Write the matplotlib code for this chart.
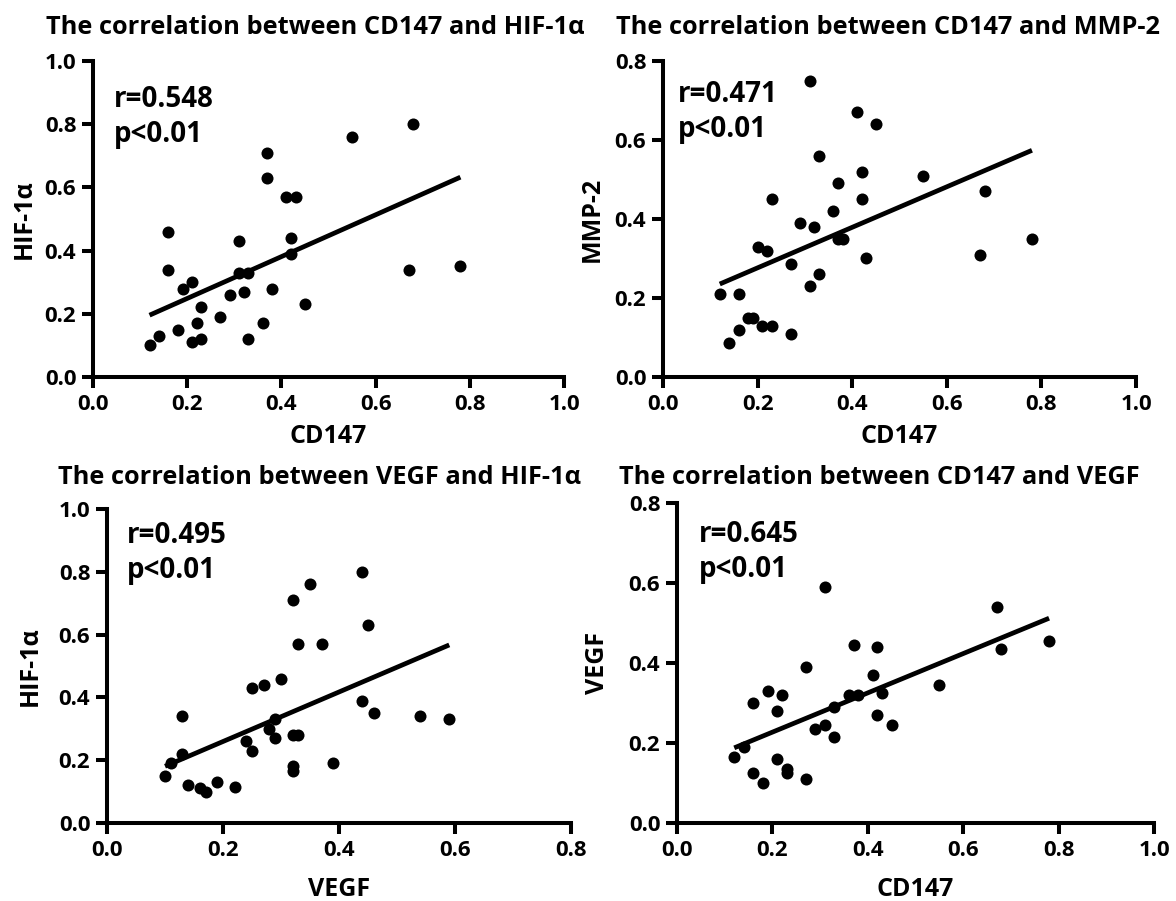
import numpy as np
import matplotlib
matplotlib.use("Agg")
import matplotlib.pyplot as plt
from matplotlib.ticker import FormatStrFormatter

# ---------------------------------------------------------------------------
# Data
# ---------------------------------------------------------------------------

# CD147 vs HIF-1a
cd147_a = [0.12, 0.14, 0.16, 0.16, 0.18, 0.19, 0.21, 0.21, 0.22, 0.23, 0.23,
           0.27, 0.29, 0.31, 0.31, 0.32, 0.33, 0.33, 0.36, 0.37, 0.37, 0.38,
           0.41, 0.43, 0.42, 0.42, 0.45, 0.55, 0.68, 0.67, 0.78]
hif_a = [0.10, 0.13, 0.46, 0.34, 0.15, 0.28, 0.30, 0.11, 0.17, 0.22, 0.12,
         0.19, 0.26, 0.43, 0.33, 0.27, 0.33, 0.12, 0.17, 0.71, 0.63, 0.28,
         0.57, 0.57, 0.44, 0.39, 0.23, 0.76, 0.80, 0.34, 0.35]

# CD147 vs MMP-2
cd147_b = [0.12, 0.14, 0.16, 0.16, 0.18, 0.19, 0.20, 0.22, 0.21, 0.23, 0.23,
           0.27, 0.27, 0.29, 0.31, 0.31, 0.32, 0.33, 0.33, 0.36, 0.37, 0.37,
           0.38, 0.41, 0.42, 0.42, 0.43, 0.45, 0.55, 0.67, 0.68, 0.78]
mmp2_b = [0.21, 0.085, 0.21, 0.12, 0.15, 0.15, 0.33, 0.32, 0.13, 0.13, 0.45,
          0.11, 0.285, 0.39, 0.75, 0.23, 0.38, 0.56, 0.26, 0.42, 0.49, 0.35,
          0.35, 0.67, 0.52, 0.45, 0.30, 0.64, 0.51, 0.31, 0.47, 0.35]

# VEGF vs HIF-1a
vegf_c = [0.10, 0.11, 0.13, 0.13, 0.14, 0.16, 0.17, 0.19, 0.22, 0.24, 0.25,
          0.25, 0.27, 0.28, 0.29, 0.29, 0.30, 0.32, 0.32, 0.33, 0.32, 0.32,
          0.33, 0.35, 0.37, 0.39, 0.44, 0.44, 0.45, 0.46, 0.54, 0.59]
hif_c = [0.15, 0.19, 0.22, 0.34, 0.12, 0.11, 0.10, 0.13, 0.115, 0.26, 0.43,
         0.23, 0.44, 0.30, 0.33, 0.27, 0.46, 0.71, 0.28, 0.28, 0.18, 0.165,
         0.57, 0.76, 0.57, 0.19, 0.80, 0.39, 0.63, 0.35, 0.34, 0.33]

# CD147 vs VEGF
cd147_d = [0.12, 0.14, 0.16, 0.16, 0.18, 0.19, 0.21, 0.21, 0.22, 0.23, 0.23,
           0.27, 0.27, 0.29, 0.31, 0.31, 0.33, 0.33, 0.36, 0.37, 0.38, 0.41,
           0.42, 0.42, 0.43, 0.45, 0.55, 0.67, 0.68, 0.78]
vegf_d = [0.165, 0.19, 0.30, 0.125, 0.10, 0.33, 0.28, 0.16, 0.32, 0.135, 0.125,
          0.39, 0.11, 0.235, 0.59, 0.245, 0.29, 0.215, 0.32, 0.445, 0.32, 0.37,
          0.44, 0.27, 0.325, 0.245, 0.345, 0.54, 0.435, 0.455]

titles = ["The correlation between CD147 and HIF-1\u03b1",
          "The correlation between CD147 and MMP-2",
          "The correlation between VEGF and HIF-1\u03b1",
          "The correlation between CD147 and VEGF"]
x_labels = ["CD147", "CD147", "VEGF", "CD147"]
y_labels = ["HIF-1\u03b1", "MMP-2", "HIF-1\u03b1", "VEGF"]
r_texts = ["r=0.548\np<0.01", "r=0.471\np<0.01",
           "r=0.495\np<0.01", "r=0.645\np<0.01"]
x_max = [1.0, 1.0, 0.8, 1.0]
y_max = [1.0, 0.8, 1.0, 0.8]

xs = [cd147_a, cd147_b, vegf_c, cd147_d]
ys = [hif_a, mmp2_b, hif_c, vegf_d]

# ---------------------------------------------------------------------------
# Layout (figure fractions / axes fractions)
# ---------------------------------------------------------------------------

rects = [(0.0791, 0.5816, 0.4005, 0.3507),
         (0.5638, 0.5816, 0.4022, 0.3507),
         (0.0910, 0.0866, 0.3946, 0.3485),
         (0.5757, 0.0866, 0.4056, 0.3552)]
title_pos = [(0.2679, 0.9623), (0.7551, 0.9623),
             (0.2713, 0.4628), (0.7474, 0.4628)]
# anchored at the baseline of the "p<0.01" line
r_pos = [(0.045, 0.744), (0.032, 0.76), (0.043, 0.78), (0.046, 0.77)]
ylabel_x = [-0.119, -0.123, -0.138, -0.140]
xlabel_y = [-0.149, -0.149, -0.172, -0.168]

plt.rcParams["font.family"] = ["Open Sans", "DejaVu Sans"]
plt.rcParams["font.weight"] = "bold"

LW = 2.9

fig = plt.figure(figsize=(11.76, 9.01), dpi=100)

for i in range(4):
    ax = fig.add_axes(rects[i])
    x = np.array(xs[i])
    y = np.array(ys[i])
    ax.scatter(x, y, s=75, color="black", zorder=3, linewidths=0)

    # least-squares fit line over the data range
    slope, intercept = np.polyfit(x, y, 1)
    fx = np.array([x.min(), x.max()])
    ax.plot(fx, slope * fx + intercept, color="black", lw=3.4,
            solid_capstyle="butt", zorder=2)

    ax.set_xlim(0, x_max[i])
    ax.set_ylim(0, y_max[i])
    ax.set_xticks(np.arange(0, x_max[i] + 0.01, 0.2))
    ax.set_yticks(np.arange(0, y_max[i] + 0.01, 0.2))
    ax.xaxis.set_major_formatter(FormatStrFormatter("%.1f"))
    ax.yaxis.set_major_formatter(FormatStrFormatter("%.1f"))

    for side in ["top", "right"]:
        ax.spines[side].set_visible(False)
    for side in ["left", "bottom"]:
        ax.spines[side].set_linewidth(LW)
    ax.tick_params(width=LW, length=8, pad=4, labelsize=16)
    for lab in ax.get_xticklabels() + ax.get_yticklabels():
        lab.set_fontweight("bold")

    ax.set_xlabel(x_labels[i], fontsize=18, fontweight="bold")
    ax.set_ylabel(y_labels[i], fontsize=18, fontweight="bold")
    ax.xaxis.set_label_coords(0.5, xlabel_y[i])
    ax.yaxis.set_label_coords(ylabel_x[i], 0.5)

    ax.text(r_pos[i][0], r_pos[i][1], r_texts[i], transform=ax.transAxes,
            fontsize=20, fontweight="bold", va="baseline", ha="left",
            linespacing=1.27)
    fig.text(title_pos[i][0], title_pos[i][1], titles[i], fontsize=18.3,
             fontweight="bold", ha="center", va="baseline")

fig.savefig("out.png", dpi=100)
